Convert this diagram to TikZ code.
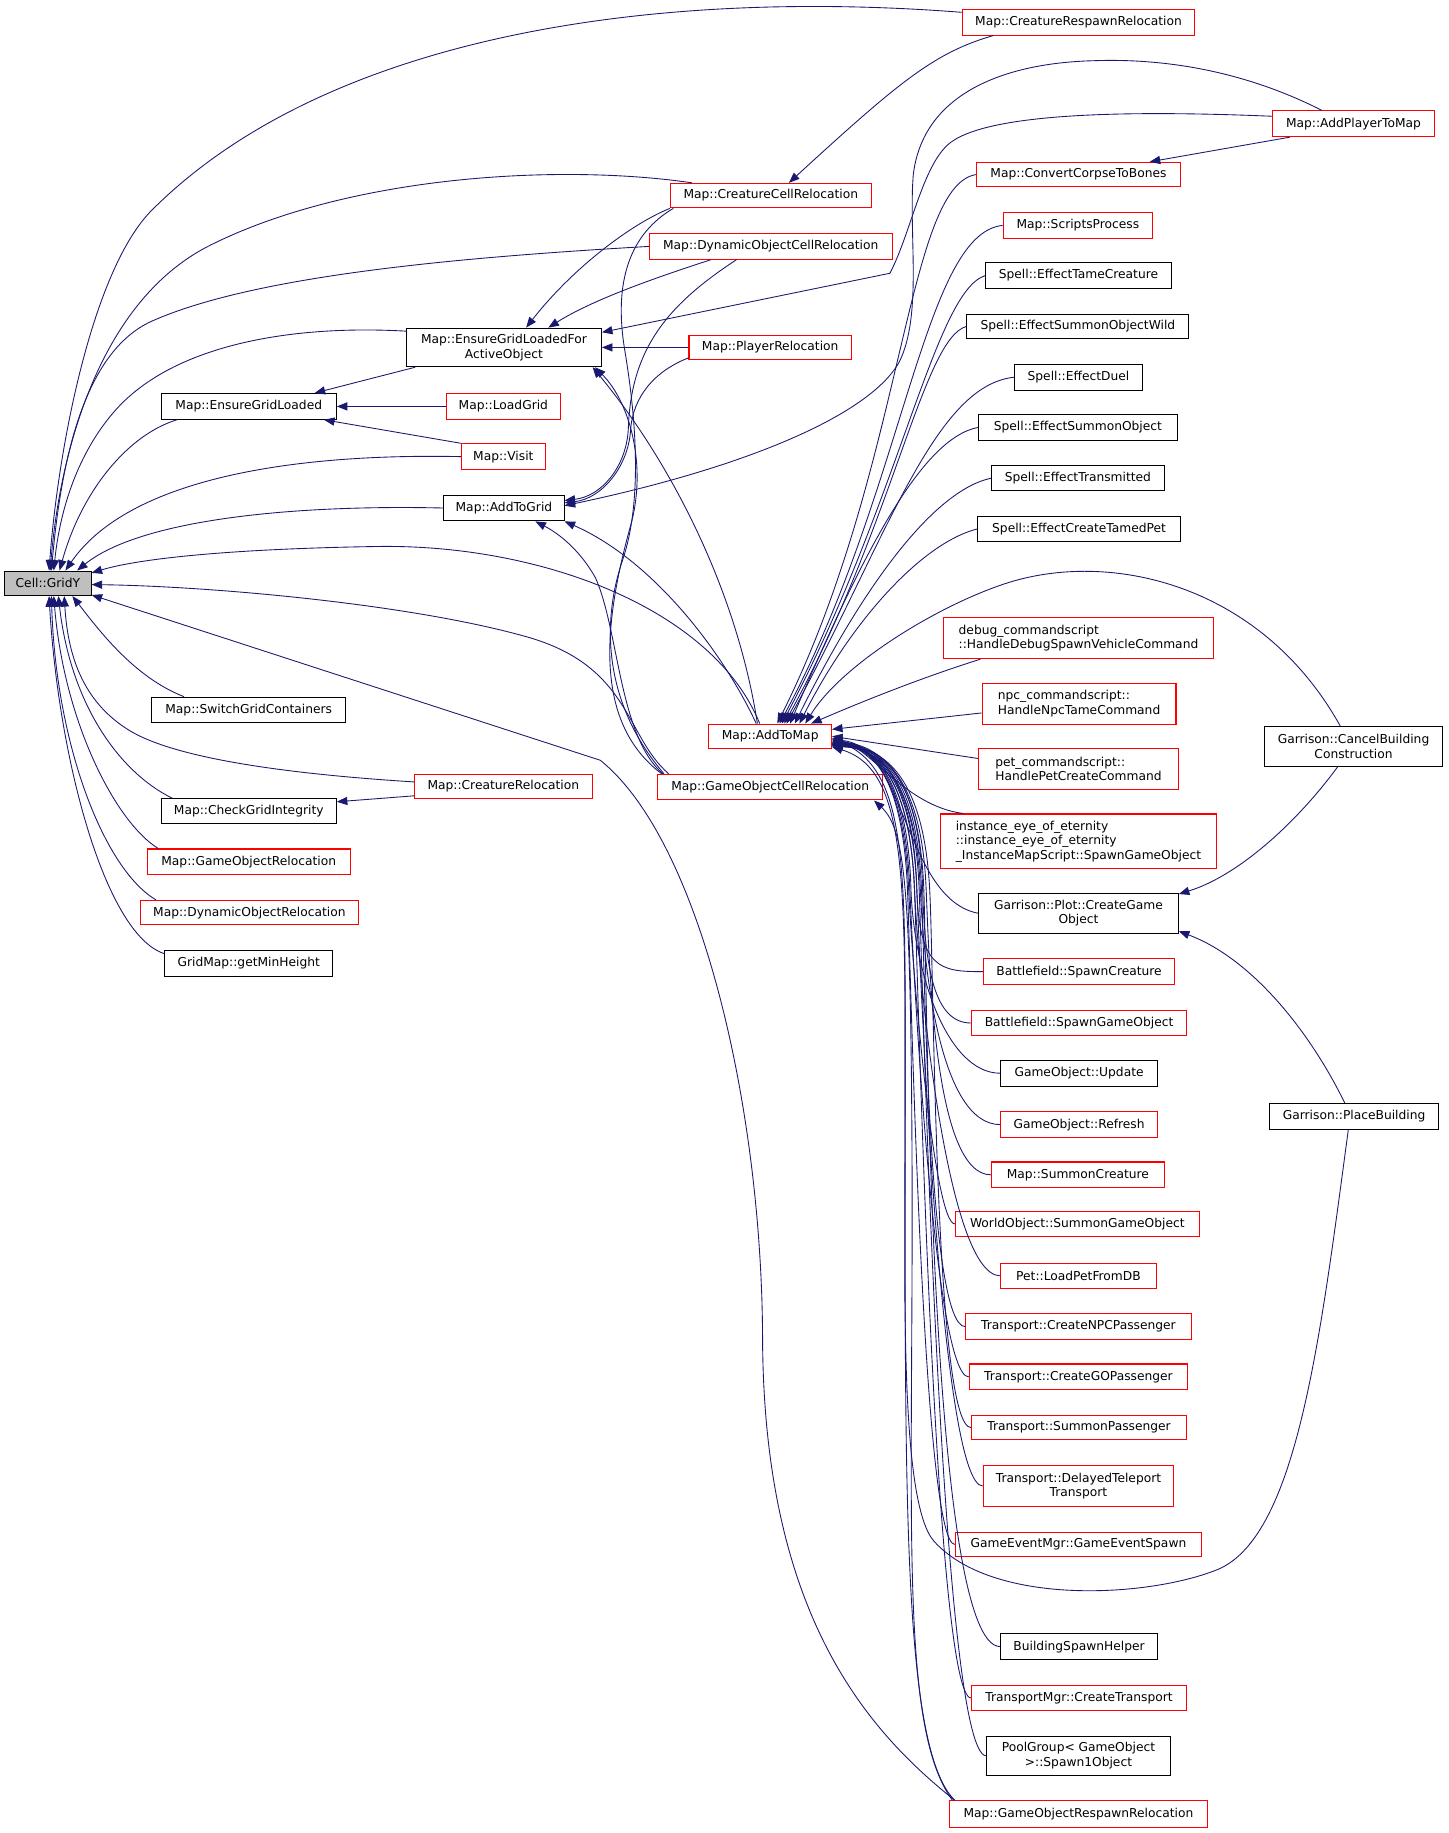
\documentclass[tikz,border=0pt]{standalone}
\usepackage{fontspec}
\setmainfont{DejaVu Sans}
\usetikzlibrary{arrows.meta}
\definecolor{mb}{HTML}{191970}
\definecolor{nred}{HTML}{FF0000}
\definecolor{gfill}{HTML}{BFBFBF}
\newcommand\mybox[8]{%
  \pgfmathsetmacro\mbw{#4-#2}%
  \pgfmathsetmacro\mbh{#5-#3}%
  \pgfmathsetmacro\mbx{(#2+#4)/2}%
  \pgfmathsetmacro\mby{(#3+#5)/2}%
  \node[nb,draw=#6,minimum width=\mbw pt,minimum height=\mbh pt,#7] (#1) at (\mbx,\mby) {#8};}
% lower edge: target, yshift, X1, X2, X3, C, X4, TY
\newcommand\lowedge[8]{%
  \draw[eb] ([yshift=-#2pt]atm.east) .. controls (#3,640) and (#4,690) .. (#5,760) .. controls (#6,830) and (#7,#8) .. (#1.west);}
\begin{document}
\begin{tikzpicture}[x=1pt,y=-1pt,
  nb/.style={draw,line width=0.9pt,inner sep=0pt,fill=white,align=center,
    font=\fontsize{10.5}{12.4}\selectfont},
  e/.style={draw=mb,line width=0.75pt,-{Triangle[length=9pt,width=7pt]}},
  eb/.style={draw=mb,line width=0.75pt,{Triangle[length=9pt,width=7pt]}-},
  pl/.style={draw=mb,line width=0.75pt}]
\path[use as bounding box,fill=white] (0,0) rectangle (1240,1569.6);

% ---------- nodes ----------
\mybox{gy}{4}{489}{78}{510}{black}{fill=gfill}{Cell::GridY}
\mybox{crr}{824}{8}{1023}{30}{nred}{}{Map::CreatureRespawnRelocation}
\mybox{apm}{1090}{95}{1228}{117}{nred}{}{Map::AddPlayerToMap}
\mybox{ccr}{574}{157}{746}{178}{nred}{}{Map::CreatureCellRelocation}
\mybox{cctb}{836}{139}{1011}{160}{nred}{}{Map::ConvertCorpseToBones}
\mybox{sp}{859}{182}{987}{204}{nred}{}{Map::ScriptsProcess}
\mybox{docr}{556}{200}{764}{222}{nred}{}{Map::DynamicObjectCellRelocation}
\mybox{etc}{844}{225}{1003}{247}{black}{}{Spell::EffectTameCreature}
\mybox{esow}{828}{269}{1018}{290}{black}{}{Spell::EffectSummonObjectWild}
\mybox{eglfao}{348}{281}{515}{314}{black}{}{Map::EnsureGridLoadedFor\\ActiveObject}
\mybox{pr}{590}{287}{729}{308}{nred}{}{Map::PlayerRelocation}
\mybox{ed}{869}{312}{978}{334}{black}{}{Spell::EffectDuel}
\mybox{egl}{138}{337}{288}{359}{black}{}{Map::EnsureGridLoaded}
\mybox{lg}{382}{337}{480}{359}{nred}{}{Map::LoadGrid}
\mybox{eso}{838}{355}{1008}{377}{black}{}{Spell::EffectSummonObject}
\mybox{visit}{395}{380}{467}{402}{nred}{}{Map::Visit}
\mybox{et}{849}{399}{997}{420}{black}{}{Spell::EffectTransmitted}
\mybox{atg}{380}{424}{483}{446}{black}{}{Map::AddToGrid}
\mybox{ectp}{837}{442}{1011}{464}{black}{}{Spell::EffectCreateTamedPet}
\mybox{dbg}{808}{529}{1039}{564}{nred}{align=left}{debug\_commandscript\\::HandleDebugSpawnVehicleCommand}
\mybox{sgc}{130}{597}{296}{619}{black}{}{Map::SwitchGridContainers}
\mybox{npc}{841}{585}{1007}{620}{nred}{align=left}{npc\_commandscript::\\HandleNpcTameCommand}
\mybox{atm}{607}{620}{712}{641}{nred}{}{Map::AddToMap}
\mybox{cbc}{1083}{622}{1235}{656}{black}{}{Garrison::CancelBuilding\\Construction}
\mybox{pet}{838}{641}{1009}{676}{nred}{align=left}{pet\_commandscript::\\HandlePetCreateCommand}
\mybox{cr}{355}{663}{507}{684}{nred}{}{Map::CreatureRelocation}
\mybox{gocr}{563}{663}{756}{685}{nred}{}{Map::GameObjectCellRelocation}
\mybox{cgi}{138}{684}{288}{705}{black}{}{Map::CheckGridIntegrity}
\mybox{inst}{805}{697}{1042}{744}{nred}{align=left}{instance\_eye\_of\_eternity\\::instance\_eye\_of\_eternity\\\_InstanceMapScript::SpawnGameObject}
\mybox{gor}{126}{727}{300}{749}{nred}{}{Map::GameObjectRelocation}
\mybox{plot}{838}{765}{1009}{799}{black}{}{Garrison::Plot::CreateGame\\Object}
\mybox{dor}{120}{771}{307}{792}{nred}{}{Map::DynamicObjectRelocation}
\mybox{gmh}{141}{814}{285}{836}{black}{}{GridMap::getMinHeight}
\mybox{bsc}{842}{821}{1006}{843}{nred}{}{Battlefield::SpawnCreature}
\mybox{bsgo}{832}{865}{1016}{887}{nred}{}{Battlefield::SpawnGameObject}
\mybox{gou}{857}{908}{991}{930}{black}{}{GameObject::Update}
\mybox{pb}{1087}{945}{1232}{967}{black}{}{Garrison::PlaceBuilding}
\mybox{gorf}{857}{952}{991}{974}{nred}{}{GameObject::Refresh}
\mybox{smc}{849}{995}{997}{1017}{nred}{}{Map::SummonCreature}
\mybox{wosgo}{818}{1037}{1027}{1059}{nred}{}{WorldObject::SummonGameObject}
\mybox{plfdb}{857}{1082}{990}{1103}{nred}{}{Pet::LoadPetFromDB}
\mybox{tcnpc}{827}{1125}{1020}{1147}{nred}{}{Transport::CreateNPCPassenger}
\mybox{tcgo}{830}{1168}{1017}{1190}{nred}{}{Transport::CreateGOPassenger}
\mybox{tsp}{832}{1212}{1016}{1233}{nred}{}{Transport::SummonPassenger}
\mybox{tdt}{842}{1255}{1005}{1290}{nred}{}{Transport::DelayedTeleport\\Transport}
\mybox{gem}{818}{1312}{1029}{1333}{nred}{}{GameEventMgr::GameEventSpawn}
\mybox{bsh}{857}{1399}{991}{1421}{black}{}{BuildingSpawnHelper}
\mybox{tmgr}{832}{1443}{1016}{1465}{nred}{}{TransportMgr::CreateTransport}
\mybox{pool}{845}{1487}{1002}{1520}{black}{}{PoolGroup< GameObject\\>::Spawn1Object}
\mybox{gorr}{813}{1542}{1034}{1565}{nred}{}{Map::GameObjectRespawnRelocation}

% ---------- edges to Cell::GridY ----------
\draw[e] ([yshift=-3pt]crr.north west) .. controls (560,-10) and (280,30) .. (130,180) .. controls (80,230) and (50,380) .. ([xshift=1pt]gy.north);
\draw[e] ([xshift=19pt]ccr.north west) .. controls (480,140) and (300,150) .. (180,210) .. controls (80,260) and (50,400) .. ([xshift=2pt]gy.north);
\draw[e] (docr.west) .. controls (400,220) and (220,235) .. (130,275) .. controls (70,302) and (52,400) .. ([xshift=3pt]gy.north);
\draw[e] ([yshift=-3pt]eglfao.north west) .. controls (250,278) and (150,295) .. (100,350) .. controls (70,383) and (52,430) .. ([xshift=5pt]gy.north);
\draw[e] ([xshift=14pt]egl.south west) .. controls (110,372) and (70,420) .. ([xshift=10pt]gy.north);
\draw[e] (visit.west) .. controls (250,388) and (110,410) .. ([xshift=15pt]gy.north);
\draw[e] (atg.west) .. controls (250,432) and (120,445) .. ([xshift=25pt]gy.north);
\draw[e] ([xshift=44pt]atm.north west) .. controls (610,520) and (460,465) .. (320,468) .. controls (200,470) and (120,478) .. ([yshift=-2pt]gy.north east);
\draw[e] ([xshift=10pt]gocr.north west) .. controls (535,630) and (540,570) .. (450,545) .. controls (350,517) and (180,502) .. ([yshift=-12pt]gy.north east);
\draw[e] ([xshift=5pt]gorr.north west) .. controls (740,1480) and (655,1380) .. (653,1150) .. controls (653,950) and (600,720) .. (514,651) -- ([yshift=1pt]gy.south east);
\draw[e] ([xshift=28pt]sgc.north west) .. controls (115,580) and (85,540) .. ([xshift=21pt]gy.south);
\draw[e] ([yshift=-7pt]cr.north west) .. controls (250,663) and (150,650) .. (110,625) .. controls (70,600) and (58,560) .. ([xshift=14pt]gy.south);
\draw[e] ([xshift=10pt]cgi.north west) .. controls (100,660) and (60,600) .. ([xshift=9pt]gy.south);
\draw[e] ([xshift=10pt]gor.north west) .. controls (100,705) and (55,620) .. ([xshift=5pt]gy.south);
\draw[e] ([xshift=14pt]dor.north west) .. controls (90,745) and (48,640) .. ([xshift=3pt]gy.south);
\draw[e] ([yshift=-3pt]gmh.north west) .. controls (90,800) and (50,650) .. ([xshift=1pt]gy.south);

% ---------- Map::EnsureGridLoaded ----------
\draw[e] ([xshift=8pt]eglfao.south west) -- ([xshift=-19pt]egl.north east);
\draw[e] (lg.west) -- (egl.east);
\draw[e] (visit.north west) -- ([xshift=-11pt]egl.south east);

% ---------- Map::EnsureGridLoadedForActiveObject ----------
\draw[e] (ccr.south west) .. controls (540,192) and (490,230) .. ([xshift=103pt]eglfao.north west);
\draw[e] ([xshift=53pt]docr.south west) .. controls (570,235) and (510,255) .. ([xshift=122pt]eglfao.north west);
\draw[e] (pr.west) -- (eglfao.east);
\draw[e] ([yshift=-5pt]apm.north west) .. controls (980,95) and (850,95) .. (814,122) .. controls (790,140) and (780,200) .. (762,234) -- ([yshift=-4pt]eglfao.north east);
\draw[e] ([xshift=42pt]atm.north west) .. controls (630,500) and (570,390) .. ([xshift=-8pt]eglfao.south east);
\draw[e] ([xshift=4pt]gocr.north west) .. controls (510,620) and (515,540) .. (540,450) .. controls (554,400) and (540,345) .. ([xshift=-6pt]eglfao.south east);

% ---------- Map::AddToGrid ----------
\draw[e] ([xshift=75pt]docr.south west) .. controls (570,262) and (540,300) .. (538,368) .. controls (536,400) and (515,425) .. ([yshift=-5pt]atg.north east);
\draw[e] ([yshift=2pt]pr.south west) .. controls (560,318) and (542,340) .. (540,368) .. controls (538,400) and (515,427) .. ([yshift=-7pt]atg.north east);
\draw[pl] ([xshift=3pt]ccr.south west) .. controls (540,200) and (525,240) .. (535,300) .. controls (545,360) and (550,430) .. (533,480) .. controls (516,530) and (515,600) .. ([xshift=6pt]gocr.north west);
\draw[e] ([xshift=-27pt]apm.north) .. controls (1060,58) and (990,50) .. (936,52) .. controls (860,54) and (790,80) .. (782,150) .. controls (778,200) and (790,270) .. (770,310) .. controls (745,355) and (640,400) .. ([yshift=2pt]atg.east);
\draw[e] ([xshift=41pt]atm.north west) .. controls (620,560) and (560,480) .. (atg.south east);
\draw[e] ([xshift=5pt]gocr.north west) .. controls (530,630) and (530,540) .. (510,495) .. controls (495,468) and (475,455) .. ([xshift=-25pt]atg.south east);

% ---------- misc ----------
\draw[e] ([xshift=27pt]crr.south west) .. controls (800,45) and (770,70) .. ([xshift=102pt]ccr.north west);
\draw[e] ([xshift=15pt]apm.south west) -- ([xshift=61pt]cctb.north);
\draw[e] ([yshift=3pt]cr.south west) -- ([yshift=-3pt]cgi.north east);
\draw[e] ([xshift=3pt]gorr.north west) .. controls (770,1480) and (782,1300) .. (781,1000) .. controls (780,760) and (775,710) .. ([xshift=-8pt]gocr.south east);
\draw[e] ([xshift=63pt]cbc.south west) .. controls (1110,705) and (1060,750) .. ([yshift=-1pt]plot.north east);
\draw[e] ([xshift=65pt]pb.north west) .. controls (1120,880) and (1070,820) .. ([yshift=2pt]plot.south east);

% ---------- Map::AddToMap ----------
\draw[e] ([xshift=65pt]cbc.north west) .. controls (1080,500) and (950,470) .. (860,500) .. controls (800,520) and (720,570) .. ([xshift=83pt]atm.north west);
\draw[e] ([xshift=68pt]pb.south west) .. controls (1130,1150) and (1110,1320) .. (1040,1345) .. controls (980,1368) and (850,1375) .. (800,1320) .. controls (770,1287) and (775,1100) .. (775,950) .. controls (775,750) and (780,660) .. ([yshift=-2pt]atm.east);
\draw[e] (cctb.west) .. controls (775,160) and (775,400) .. ([xshift=59pt]atm.north west);
\draw[e] (sp.west) .. controls (790,200) and (775,420) .. ([xshift=61pt]atm.north west);
\draw[e] (etc.west) .. controls (800,250) and (770,430) .. ([xshift=63pt]atm.north west);
\draw[e] (esow.west) .. controls (790,290) and (765,450) .. ([xshift=65pt]atm.north west);
\draw[e] (ed.west) .. controls (800,330) and (760,460) .. ([xshift=67pt]atm.north west);
\draw[e] (eso.west) .. controls (790,375) and (740,470) .. ([xshift=70pt]atm.north west);
\draw[e] (et.west) .. controls (800,420) and (740,500) .. ([xshift=74pt]atm.north west);
\draw[e] (ectp.west) .. controls (790,465) and (730,530) .. ([xshift=78pt]atm.north west);
\draw[e] ([xshift=32pt]dbg.south west) .. controls (790,580) and (740,600) .. ([xshift=88pt]atm.north west);
\draw[e] ([yshift=-8pt]npc.west) -- ([yshift=6pt]atm.east);
\draw[e] ([yshift=9pt]pet.west) -- (atm.east);
\draw[eb] ([yshift=-2pt]atm.east) .. controls (745,640) and (775,690) .. ([xshift=20pt]inst.north west);
\draw[eb] ([yshift=-3pt]atm.east) .. controls (775,638) and (775,770) .. (plot.west);
\lowedge{bsc}{4}{765}{783}{785}{787}{805}{832}
\lowedge{bsgo}{4}{770}{788}{790}{792}{800}{876}
\lowedge{gou}{5}{760}{778}{780}{782}{810}{919}
\lowedge{gorf}{5}{765}{785}{788}{791}{805}{963}
\lowedge{smc}{6}{770}{790}{793}{796}{800}{1006}
\lowedge{wosgo}{6}{758}{775}{778}{781}{800}{1048}
\lowedge{plfdb}{6}{762}{780}{783}{786}{810}{1092}
\lowedge{tcnpc}{7}{768}{786}{789}{792}{795}{1136}
\lowedge{tcgo}{7}{760}{776}{779}{782}{800}{1179}
\lowedge{tsp}{7}{772}{792}{796}{800}{800}{1222}
\lowedge{tdt}{8}{764}{782}{785}{788}{805}{1272}
\lowedge{gem}{8}{758}{774}{777}{780}{790}{1322}
\lowedge{bsh}{8}{770}{788}{791}{794}{795}{1410}
\lowedge{tmgr}{8}{762}{780}{783}{786}{800}{1454}
\lowedge{pool}{9}{766}{784}{787}{790}{805}{1503}
\draw[e] ([xshift=5pt]gorr.north west) .. controls (775,1500) and (775,1300) .. (775,1000) .. controls (775,760) and (780,660) .. ([yshift=-9pt]atm.east);
\end{tikzpicture}
\end{document}
